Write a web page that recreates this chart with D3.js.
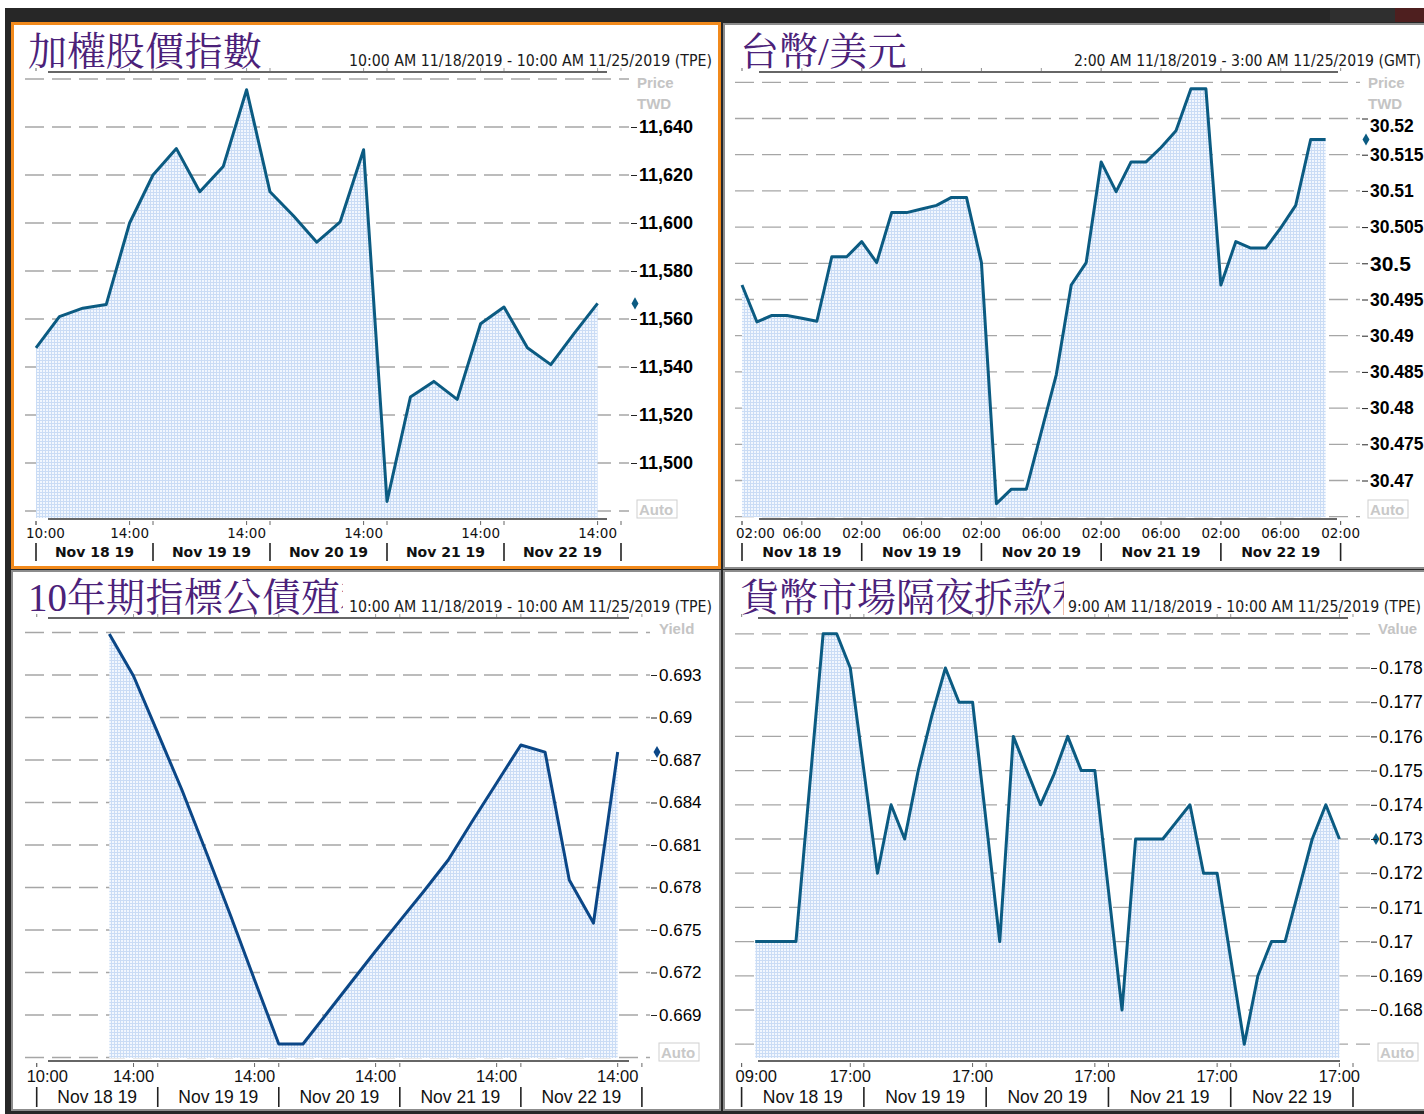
<!DOCTYPE html>
<meta charset="utf-8">
<style>
    body { margin: 0; background: #fff; }
    svg { display: block; font-family: 'Liberation Sans', Arial, sans-serif; }
    .title { fill: #4b2179; font-size: 39px; font-family: 'Liberation Serif', 'Noto Serif CJK TC', 'Noto Sans CJK TC', serif; }
    .subtitle { fill: #1a1a1a; font-size: 15px; font-family: 'DejaVu Sans Condensed', 'DejaVu Sans', sans-serif; }
    .unit { fill: #c4c4c4; font-weight: bold; font-size: 15px; }
    .auto { fill: #c8c8c8; font-weight: bold; font-size: 15px; }
</style>
<body>
<svg id="chart" width="1424" height="1114"></svg>
<script src="https://cdn.jsdelivr.net/npm/d3@7/dist/d3.min.js"></script>
<script>

// ---- data ----
var dayLabels = ["Nov 18 19", "Nov 19 19", "Nov 20 19", "Nov 21 19", "Nov 22 19"];

// 加權股價指數, hourly
var taiexTitle = "加權股價指數";
var taiexRange = "10:00 AM 11/18/2019 - 10:00 AM 11/25/2019 (TPE)";
var taiexPrice = [11548, 11561, 11564.5, 11566, 11600, 11620, 11631, 11613, 11623.5, 11655.5,
    11613, 11603, 11592, 11600.5, 11630.5, 11484, 11527.5, 11534, 11526.5, 11558,
    11565, 11548, 11541, 11554, 11566.5];
var taiexTicks = [11500, 11520, 11540, 11560, 11580, 11600, 11620, 11640];
var taiexTimeAt = [0, 4, 9, 14, 19, 24];
var taiexTimeLabels = ["10:00", "14:00", "14:00", "14:00", "14:00", "14:00"];
var taiexDayBounds = [0, 5, 10, 15, 20, 25];

// 台幣/美元
var twdTitle = "台幣/美元";
var twdRange = "2:00 AM 11/18/2019 - 3:00 AM 11/25/2019 (GMT)";
var twdPrice = [30.4970, 30.4919, 30.4928, 30.4928, 30.4924, 30.4920, 30.5009, 30.5009, 30.5030, 30.5001,
    30.5070, 30.5070, 30.5075, 30.5080, 30.5091, 30.5091, 30.5001, 30.4668, 30.4688, 30.4688,
    30.4767, 30.4846, 30.4970, 30.5001, 30.5140, 30.5099, 30.5140, 30.5140, 30.5160, 30.5183,
    30.5241, 30.5241, 30.4970, 30.5030, 30.5021, 30.5021, 30.5049, 30.5080, 30.5171, 30.5171];
var twdTicks = [30.47, 30.475, 30.48, 30.485, 30.49, 30.495, 30.5, 30.505, 30.51, 30.515, 30.52];
var twdTimeAt = [0, 4, 8, 12, 16, 20, 24, 28, 32, 36, 40];
var twdTimeLabels = ["02:00", "06:00", "02:00", "06:00", "02:00", "06:00", "02:00", "06:00", "02:00", "06:00", "02:00"];
var twdDayBounds = [0, 8, 16, 24, 32, 40];

// 10年期指標公債殖利率
var bondTitle = "10年期指標公債殖利率";
var bondRange = "10:00 AM 11/18/2019 - 10:00 AM 11/25/2019 (TPE)";
var bondYield = [0.69589, 0.69293, 0.68891, 0.68488, 0.68051, 0.67606, 0.67147, 0.66695, 0.66695, 0.66914,
    0.67133, 0.67352, 0.67564, 0.67775, 0.67994, 0.68269, 0.68538, 0.68806, 0.68756, 0.67853,
    0.67549, 0.68756];
var bondTicks = [0.669, 0.672, 0.675, 0.678, 0.681, 0.684, 0.687, 0.69, 0.693];
var bondTimeAt = [-3, 1, 6, 11, 16, 21];
var bondTimeLabels = ["10:00", "14:00", "14:00", "14:00", "14:00", "14:00"];
var bondDayBounds = [-3, 2, 7, 12, 17, 22];

// 貨幣市場隔夜拆款利率
var rateTitle = "貨幣市場隔夜拆款利率";
var rateRange = "9:00 AM 11/18/2019 - 10:00 AM 11/25/2019 (TPE)";
var rateValue = [0.170, 0.170, 0.170, 0.170, 0.1745, 0.179, 0.179, 0.178, 0.175, 0.172,
    0.174, 0.173, 0.175, 0.1766, 0.178, 0.177, 0.177, 0.1735, 0.170, 0.176,
    0.175, 0.174, 0.1749, 0.176, 0.175, 0.175, 0.1715, 0.168, 0.173, 0.173,
    0.173, 0.1735, 0.174, 0.172, 0.172, 0.1695, 0.167, 0.169, 0.170, 0.170,
    0.1715, 0.173, 0.174, 0.173];
var rateTicks = [0.168, 0.169, 0.17, 0.171, 0.172, 0.173, 0.174, 0.175, 0.176, 0.177, 0.178];
var rateTimeAt = [-1, 7, 16, 25, 34, 43];
var rateTimeLabels = ["09:00", "17:00", "17:00", "17:00", "17:00", "17:00"];
var rateDayBounds = [-1, 8, 17, 26, 35, 44];

var svg = d3.select("#chart");
var defs = svg.append("defs");

// fine blue grid used as area fill
var pat = defs.append("pattern")
    .attr("id", "fillGrid").attr("width", 3).attr("height", 3)
    .attr("patternUnits", "userSpaceOnUse");
pat.append("rect").attr("width", 3).attr("height", 3).attr("fill", "#f2f7fe");
pat.append("path").attr("d", "M0,0.5H3M0.5,0V3").attr("stroke", "#cadcf5").attr("stroke-width", 1);

// window chrome
svg.append("rect").attr("width", 1424).attr("height", 1114).attr("fill", "#fff");
svg.append("rect").attr("x", 5).attr("y", 8).attr("width", 1419).attr("height", 1106).attr("fill", "#272727");
svg.append("rect").attr("x", 1330).attr("y", 8).attr("width", 65).attr("height", 14).attr("fill", "#2f2f2f");
svg.append("rect").attr("x", 1395).attr("y", 8).attr("width", 29).attr("height", 14).attr("fill", "#4e1f1f");

function frame(x, y, w, h, color, width) {
    svg.append("rect").attr("x", x).attr("y", y).attr("width", w).attr("height", h).attr("fill", color);
    svg.append("rect").attr("x", x + width).attr("y", y + width)
        .attr("width", w - 2 * width).attr("height", h - 2 * width).attr("fill", "#fff");
}
frame(11, 22, 710, 547, "#f28a1c", 3);
frame(723, 23, 710, 546, "#8c8c8c", 2);
frame(11, 570, 710, 541, "#8c8c8c", 2);
frame(723, 570, 710, 541, "#8c8c8c", 2);

var panelNo = 0;

function drawPanel(p) {
    var g = svg.append("g");
    var x = d3.scaleLinear().domain(p.xDomain).range(p.xRange);
    var y = d3.scaleLinear().domain(p.yDomain).range(p.yRange);
    panelNo++;

    // title; a long one is cut off where the time range text begins
    var title = g.append("text").attr("class", "title").attr("x", p.titleX).attr("y", p.titleY).text(p.title);
    if (p.clipX) {
        var cid = "titleClip" + panelNo;
        defs.append("clipPath").attr("id", cid).append("rect")
            .attr("x", p.titleX - 5).attr("y", p.titleY - 45)
            .attr("width", p.clipX - p.titleX + 5).attr("height", 60);
        title.attr("clip-path", "url(#" + cid + ")");
    }
    g.append("text").attr("class", "subtitle").attr("x", p.subEnd).attr("y", p.subY)
        .attr("text-anchor", "end").attr("textLength", p.subWidth).attr("lengthAdjust", "spacingAndGlyphs")
        .text(p.range);

    g.append("line").attr("x1", p.lineX[0]).attr("x2", p.lineX[1])
        .attr("y1", p.headY).attr("y2", p.headY).attr("stroke", "#333").attr("stroke-width", 1.3);
    g.selectAll(".htick").data(p.timeAt.concat(p.dayBounds)).enter().append("line")
        .attr("x1", function (d) { return x(d); }).attr("x2", function (d) { return x(d); })
        .attr("y1", p.headY - 4).attr("y2", p.headY - 1).attr("stroke", "#999");

    // dashed grid
    var grid = d3.range(p.yDomain[0], p.yDomain[1] + p.step / 2, p.step);
    g.selectAll(".grid").data(grid).enter().append("line")
        .attr("x1", p.gridX[0]).attr("x2", p.gridX[1])
        .attr("y1", function (d) { return y(d); }).attr("y2", function (d) { return y(d); })
        .attr("stroke", "#a6a6a6").attr("stroke-width", 1.3).attr("stroke-dasharray", "19,8");

    // area + line
    var area = d3.area()
        .x(function (d, i) { return x(i); })
        .y0(p.baseY)
        .y1(function (d) { return y(d); });
    var line = d3.line()
        .x(function (d, i) { return x(i); })
        .y(function (d) { return y(d); });
    g.append("path").datum(p.values).attr("d", area).attr("fill", "url(#fillGrid)");
    g.append("path").datum(p.values).attr("d", line)
        .attr("fill", "none").attr("stroke", p.color).attr("stroke-width", 3).attr("stroke-linejoin", "round");

    // last value marker
    g.append("path").attr("d", d3.symbol(d3.symbolDiamond).size(42))
        .attr("transform", "translate(" + p.markX + "," + y(p.values[p.values.length - 1]) + ")")
        .attr("fill", p.color);

    // right value axis
    var yAxis = g.append("g").attr("transform", "translate(" + p.axisX + ",0)")
        .call(d3.axisRight(y).tickValues(p.ticks).tickSize(6).tickPadding(2)
            .tickFormat(p.fmt));
    yAxis.select(".domain").remove();
    yAxis.selectAll("line").attr("stroke", "#222");
    yAxis.selectAll("text").attr("fill", "#000").attr("font-family", "'Liberation Sans', Arial, sans-serif")
        .style("font-size", p.yFont).style("font-weight", p.yWeight);
    if (p.tweakY) p.tweakY(yAxis);

    p.units.forEach(function (u, i) {
        g.append("text").attr("class", "unit").attr("x", p.unitX).attr("y", p.unitY + i * 21)
            .attr("dy", "0.35em").text(u);
    });
    g.append("rect").attr("x", p.autoX).attr("y", p.autoY).attr("width", 40).attr("height", 18)
        .attr("fill", "none").attr("stroke", "#cfcfcf");
    g.append("text").attr("class", "auto").attr("x", p.autoX + 2).attr("y", p.autoY + 15).text("Auto");

    // bottom time axis
    g.append("line").attr("x1", p.lineX[0]).attr("x2", p.axisEnd)
        .attr("y1", p.axisY).attr("y2", p.axisY).attr("stroke", "#333").attr("stroke-width", 1.3);
    g.selectAll(".btick").data(p.timeAt.concat(p.dayBounds)).enter().append("line")
        .attr("x1", function (d) { return x(d); }).attr("x2", function (d) { return x(d); })
        .attr("y1", p.axisY + 2).attr("y2", p.axisY + 6).attr("stroke", "#666");

    g.selectAll(".tlab").data(p.timeAt).enter().append("text")
        .attr("x", function (d, i) { return i == 0 ? x(d) - p.firstShift : x(d); })
        .attr("y", p.timeY)
        .attr("text-anchor", function (d, i) { return i == 0 ? "start" : "middle"; })
        .style("font-family", p.timeFamily).style("font-size", p.timeFont).attr("fill", "#111")
        .text(function (d, i) { return p.timeLabels[i]; });

    g.selectAll(".sep").data(p.dayBounds).enter().append("line")
        .attr("x1", function (d) { return x(d); }).attr("x2", function (d) { return x(d); })
        .attr("y1", p.sepY[0]).attr("y2", p.sepY[1]).attr("stroke", "#222").attr("stroke-width", 1.6);
    g.selectAll(".dlab").data(dayLabels).enter().append("text")
        .attr("x", function (d, i) { return (x(p.dayBounds[i]) + x(p.dayBounds[i + 1])) / 2; })
        .attr("y", p.dateY).attr("text-anchor", "middle")
        .style("font-family", p.dateFamily).style("font-size", p.dateFont)
        .style("font-weight", p.dateWeight).attr("fill", "#111")
        .text(function (d) { return d; });
}

var trimNum = function (d) { return String(+d.toFixed(3)); };

drawPanel({
    title: taiexTitle, range: taiexRange, values: taiexPrice, ticks: taiexTicks,
    timeAt: taiexTimeAt, timeLabels: taiexTimeLabels, dayBounds: taiexDayBounds,
    titleX: 28, titleY: 65, subEnd: 712, subY: 66, subWidth: 363,
    headY: 72, lineX: [48, 607], axisEnd: 607,
    gridX: [25, 629], axisX: 631, step: 20,
    xDomain: [0, 25], xRange: [36, 621], yDomain: [11480, 11660], yRange: [511, 79],
    baseY: 518, axisY: 519, markX: 635, color: "#0b5b82",
    fmt: d3.format(","), yFont: "18px", yWeight: "bold",
    units: ["Price", "TWD"], unitX: 637, unitY: 83, autoX: 637, autoY: 500,
    timeY: 538, timeFont: "13.5px", timeFamily: "'DejaVu Sans', sans-serif", firstShift: 10,
    sepY: [543, 561], dateY: 557, dateFont: "14px", dateWeight: "bold", dateFamily: "'DejaVu Sans', sans-serif"
});

drawPanel({
    title: twdTitle, range: twdRange, values: twdPrice, ticks: twdTicks,
    timeAt: twdTimeAt, timeLabels: twdTimeLabels, dayBounds: twdDayBounds,
    titleX: 740, titleY: 65, subEnd: 1421, subY: 66, subWidth: 347,
    headY: 72, lineX: [759, 1338], axisEnd: 1337,
    gridX: [735, 1360], axisX: 1362, step: 0.005,
    xDomain: [0, 40], xRange: [742, 1340.6], yDomain: [30.465, 30.525], yRange: [516.7, 82.3],
    baseY: 517, axisY: 519, markX: 1366, color: "#0b5b82",
    fmt: trimNum, yFont: "17.5px", yWeight: "bold",
    tweakY: function (ax) {
        ax.selectAll(".tick text")
            .style("font-size", function (d) { return d == 30.5 ? "21px" : "17.5px"; })
            .attr("dy", function (d) { return d == 30.52 ? "0.72em" : "0.32em"; });
    },
    units: ["Price", "TWD"], unitX: 1368, unitY: 83, autoX: 1368, autoY: 500,
    timeY: 538, timeFont: "13.5px", timeFamily: "'DejaVu Sans', sans-serif", firstShift: 6,
    sepY: [543, 561], dateY: 557, dateFont: "14px", dateWeight: "bold", dateFamily: "'DejaVu Sans', sans-serif"
});

drawPanel({
    title: bondTitle, range: bondRange, values: bondYield, ticks: bondTicks,
    timeAt: bondTimeAt, timeLabels: bondTimeLabels, dayBounds: bondDayBounds,
    titleX: 28, titleY: 611, clipX: 343, subEnd: 712, subY: 612, subWidth: 363,
    headY: 618, lineX: [48, 629], axisEnd: 629,
    gridX: [25, 650], axisX: 651, step: 0.003,
    xDomain: [-3, 22], xRange: [36.7, 641.9], yDomain: [0.666, 0.696], yRange: [1057.5, 632.5],
    baseY: 1058, axisY: 1061, markX: 657, color: "#0b4787",
    fmt: trimNum, yFont: "17px", yWeight: "normal",
    units: ["Yield"], unitX: 659, unitY: 629, autoX: 659, autoY: 1043,
    timeY: 1082, timeFont: "16.5px", timeFamily: "'Liberation Sans', Arial, sans-serif", firstShift: 10,
    sepY: [1087, 1107], dateY: 1103, dateFont: "17.5px", dateWeight: "normal", dateFamily: "'Liberation Sans', Arial, sans-serif"
});

drawPanel({
    title: rateTitle, range: rateRange, values: rateValue, ticks: rateTicks,
    timeAt: rateTimeAt, timeLabels: rateTimeLabels, dayBounds: rateDayBounds,
    titleX: 740, titleY: 611, clipX: 1064, subEnd: 1421, subY: 612, subWidth: 353,
    headY: 618, lineX: [758, 1348], axisEnd: 1340,
    gridX: [735, 1370], axisX: 1371, step: 0.001,
    xDomain: [-1, 44], xRange: [741.6, 1353], yDomain: [0.167, 0.179], yRange: [1044.2, 633.8],
    baseY: 1058, axisY: 1061, markX: 1376, color: "#0b5b82",
    fmt: trimNum, yFont: "17.5px", yWeight: "normal",
    units: ["Value"], unitX: 1378, unitY: 629, autoX: 1378, autoY: 1043,
    timeY: 1082, timeFont: "16.5px", timeFamily: "'Liberation Sans', Arial, sans-serif", firstShift: 6,
    sepY: [1087, 1107], dateY: 1103, dateFont: "17.5px", dateWeight: "normal", dateFamily: "'Liberation Sans', Arial, sans-serif"
});
</script>
</body>
